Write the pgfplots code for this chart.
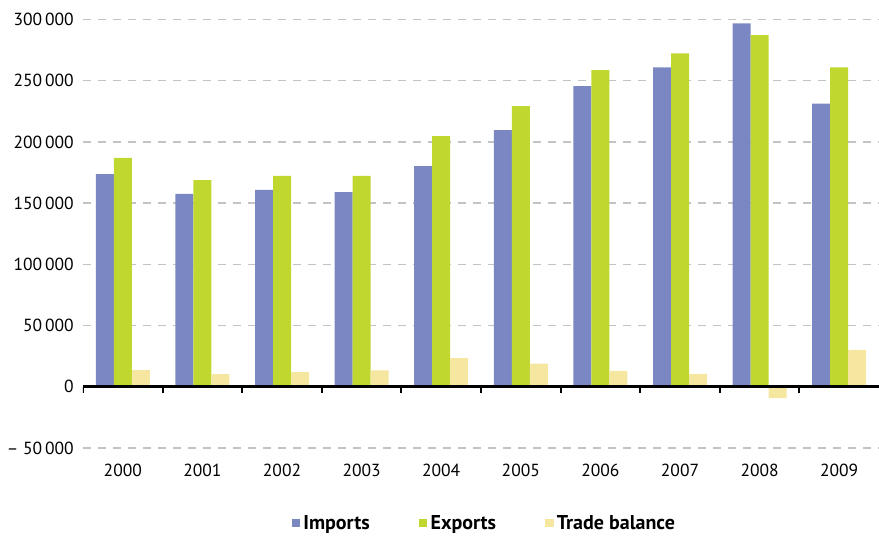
\documentclass[border=0pt]{standalone}
\usepackage{pgfplots}
\pgfplotsset{compat=1.18}
\usepackage{fontspec}
\setmainfont{PT Sans}

\definecolor{impc}{RGB}{123,135,194}
\definecolor{expc}{RGB}{192,215,48}
\definecolor{balc}{RGB}{245,230,160}
\definecolor{gridc}{RGB}{195,195,195}

\begin{document}
\begin{tikzpicture}
\useasboundingbox (-49.8pt,-53.4pt) rectangle (477.6pt,268.8pt);
\begin{axis}[
    at={(0,0)}, anchor=south west,
    scale only axis,
    width=477.6pt, height=257.1pt,
    ybar=0pt, bar width=10.8pt,
    xmin=-0.5, xmax=9.5,
    ymin=-50000, ymax=300000,
    scaled y ticks=false,
    xtick={0,...,9},
    xticklabels={2000,2001,2002,2003,2004,2005,2006,2007,2008,2009},
    ytick={-50000,0,50000,100000,150000,200000,250000,300000},
    yticklabels={– 50\,000,0,50\,000,100\,000,150\,000,200\,000,250\,000,300\,000},
    axis line style={draw=none},
    major tick length=0pt,
    ymajorgrids,
    grid style={gridc, line width=0.8pt, dash pattern=on 5pt off 4pt},
    tick label style={font=\fontsize{10.5}{12}\selectfont},
    yticklabel style={xshift=-2pt},
    xticklabel style={yshift=-6pt},
    legend style={draw=none, at={(0.505,-0.176)}, anchor=center,
        legend columns=-1, font=\fontsize{12}{14}\selectfont\bfseries,
        /tikz/every even column/.append style={column sep=27.5pt}},
    legend image code/.code={\fill[#1] (0pt,-2.4pt) rectangle (5pt,2.6pt);},
]
\addplot[fill=impc, draw=none] coordinates {
    (0,173800) (1,157500) (2,160800) (3,159000) (4,180300)
    (5,209700) (6,245600) (7,260900) (8,296800) (9,231200)
};
\addlegendentry{Imports}
\addplot[fill=expc, draw=none] coordinates {
    (0,186900) (1,168900) (2,172200) (3,172200) (4,204800)
    (5,229300) (6,258700) (7,272300) (8,287200) (9,260900)
};
\addlegendentry{Exports}
\addplot[fill=balc, draw=none] coordinates {
    (0,13600) (1,10400) (2,12000) (3,13500) (4,23500)
    (5,19000) (6,13000) (7,10600) (8,-9200) (9,30200)
};
\addlegendentry{Trade balance}
\draw[black, line width=1.8pt] (axis cs:-0.5,0) -- (axis cs:9.5,0);
\pgfplotsinvokeforeach{-0.5,0.5,1.5,2.5,3.5,4.5,5.5,6.5,7.5,8.5}{
    \draw[black, line width=1.2pt] (axis cs:#1,0) -- ++(0pt,-3.5pt);
}
\end{axis}
\end{tikzpicture}
\end{document}
